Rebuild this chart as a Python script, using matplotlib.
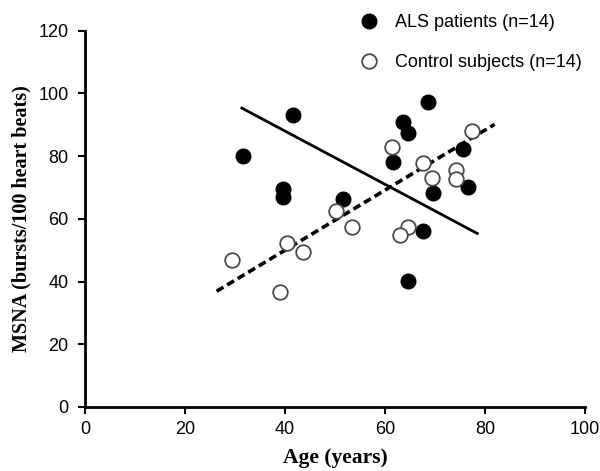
import matplotlib.pyplot as plt
import numpy as np

# ALS patients (filled)
als_age = [31.5, 41.6, 39.6, 39.6, 51.6, 61.6, 63.5, 64.5, 68.5, 75.5, 76.5, 69.5, 67.5, 64.5]
als_msna = [80.0, 93.2, 69.4, 66.9, 66.2, 78.0, 91.0, 87.2, 97.1, 82.1, 70.0, 68.2, 56.0, 40.1]

# control subjects (open)
ctl_age = [29.3, 39.0, 40.4, 43.6, 50.2, 53.4, 61.4, 64.5, 62.9, 67.5, 69.3, 74.1, 74.1, 77.3]
ctl_msna = [46.8, 36.6, 52.2, 49.4, 62.4, 57.3, 82.8, 57.3, 54.8, 77.7, 72.9, 75.5, 72.6, 87.9]

# regression lines (end points)
als_fit_x = [31.1, 78.7]
als_fit_y = [95.5, 55.1]
ctl_fit_x = [26.3, 81.9]
ctl_fit_y = [36.9, 90.1]

xticks = [0, 20, 40, 60, 80, 100]
yticks = [0, 20, 40, 60, 80, 100, 120]

plt.rcParams['font.family'] = ['Liberation Sans', 'DejaVu Sans']

fig = plt.figure(figsize=(6.0, 4.71), dpi=100)
ax = fig.add_axes([0.142, 0.136, 0.833, 0.799])

ax.plot(als_fit_x, als_fit_y, color='black', lw=2.0, solid_capstyle='butt', zorder=2)
ax.plot(ctl_fit_x, ctl_fit_y, color='black', lw=2.6, dashes=(2.2, 1.2), zorder=2)

ax.plot(als_age, als_msna, 'o', ms=10.5, mfc='black', mec='black', mew=1.0,
        label='ALS patients (n=14)', zorder=3)
ax.plot(ctl_age, ctl_msna, 'o', ms=10.5, mfc='white', mec='#4a4a4a', mew=1.3,
        label='Control subjects (n=14)', zorder=3)

ax.set_xlim(0, 100)
ax.set_ylim(0, 120)
ax.set_xticks(xticks)
ax.set_yticks(yticks)
ax.tick_params(axis='both', labelsize=13, width=1.5, length=5, direction='out')
ax.tick_params(axis='x', pad=5)
ax.tick_params(axis='y', pad=7)
for s in ['top', 'right']:
    ax.spines[s].set_visible(False)
for s in ['left', 'bottom']:
    ax.spines[s].set_linewidth(2.0)

ax.set_xlabel('Age (years)', family='Liberation Serif', fontweight='bold', fontsize=15.5)
ax.set_ylabel('MSNA (bursts/100 heart beats)', family='Liberation Serif', fontweight='bold',
              fontsize=14.5)
ax.xaxis.set_label_coords(0.5, -0.108)
ax.yaxis.set_label_coords(-0.108, 0.5)

ax.legend(loc='upper left', bbox_to_anchor=(0.588, 0.985), bbox_transform=fig.transFigure,
          frameon=False, fontsize=13, labelspacing=1.25, handletextpad=0.95,
          borderaxespad=0, handlelength=1.0)

fig.savefig('out.png', dpi=100)
